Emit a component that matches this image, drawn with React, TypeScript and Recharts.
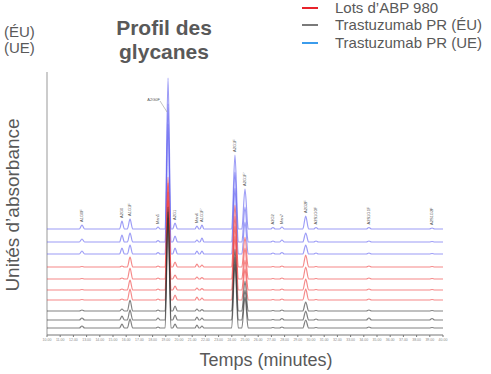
import { ComposedChart, Line, Scatter, XAxis, YAxis, ReferenceLine } from 'recharts';

// retention times (minutes) of the glycan peaks
const peakTimes = [12.65, 15.68, 16.29, 18.41, 19.17, 19.7, 21.36, 21.74, 24.24, 25.0, 27.12, 27.8, 29.6, 30.38, 34.39, 39.17];
const peakNames = ['A1G0F', 'A2G0', 'A1G1F', 'Man5', 'A2G0F', 'A2G1', 'Man6', "A1G1F'", 'A2G1F', "A2G1F'", 'A2G2', 'Man7', 'A2G2F', 'A2S1G0F', 'A2S1G1F', 'A2S1G2F'];
const peakWidths = [0.2, 0.18, 0.2, 0.16, 0.22, 0.18, 0.15, 0.15, 0.25, 0.24, 0.18, 0.18, 0.22, 0.18, 0.2, 0.2];

// peak heights per chromatogram
const ueLot1 = [4, 8, 10, 2, 151, 6, 3, 4, 74, 40, 1.5, 2, 13, 1.5, 1.5, 1];
const ueLot2 = [3, 7, 9, 1.5, 138, 6, 2, 4, 70, 35, 1, 2, 9, 1, 1, 0.5];
const ueLot3 = [3, 6, 9, 1.5, 130, 6, 3, 3, 66, 32, 1, 1.5, 9, 1, 1, 0.5];
const abpLot1 = [0.5, 1, 10, 1, 90, 5, 3, 2, 62, 30, 0.5, 1, 12, 0.5, 1, 0.5];
const abpLot2 = [0.5, 1, 11, 1, 96, 4, 2, 1.5, 63, 31, 0.5, 1, 12, 0.5, 1, 0.5];
const abpLot3 = [0.5, 1, 10, 1, 98, 4, 2, 1.5, 64, 30, 0.5, 1, 11, 0.5, 1, 0.5];
const abpLot4 = [0.5, 1, 11, 1, 100, 5, 3, 2, 64, 31, 0.5, 1, 11, 0.5, 1, 0.5];
const euLot1 = [1, 2, 11, 1, 104, 5, 2, 1.5, 62, 30, 0.5, 1, 9, 0.5, 1, 0.5];
const euLot2 = [2, 4, 10, 2, 108, 5, 3, 2, 63, 30, 0.5, 1.5, 9, 1, 2, 1.5];
const euLot3 = [2, 4, 9, 1, 110, 4, 3, 2, 64, 31, 0.5, 1, 8, 0.5, 1, 0.5];

// vertical offset of each stacked trace
const traceOffsets = [106, 93, 81, 68, 56, 45, 35, 24, 15, 7];
const traceHeights = [ueLot1, ueLot2, ueLot3, abpLot1, abpLot2, abpLot3, abpLot4, euLot1, euLot2, euLot3];
const traceColors = ['#5c5cf0', '#5c5cf0', '#5c5cf0', '#ee3b3b', '#ee3b3b', '#ee3b3b', '#ee3b3b', '#2e2e2e', '#2e2e2e', '#2e2e2e'];

const timeTicks = [10, 11, 12, 13, 14, 15, 16, 17, 18, 19, 20, 21, 22, 23, 24, 25, 26, 27, 28, 29, 30, 31, 32, 33, 34, 35, 36, 37, 38, 39, 40];

const T_MIN = 10;
const T_MAX = 40;

function buildTrace(offset: number, heights: number[]) {
  const pts = [{ t: T_MIN, v: offset }];
  peakTimes.forEach((t, i) => {
    const w = peakWidths[i];
    pts.push({ t: t - w, v: offset }, { t, v: offset + heights[i] }, { t: t + w, v: offset });
  });
  pts.push({ t: T_MAX, v: offset });
  return pts;
}

const traces = traceHeights.map((h, i) => ({
  id: `trace${i}`,
  color: traceColors[i],
  data: buildTrace(traceOffsets[i], h),
}));

const peakLabels = peakTimes.map((t, i) => ({
  t,
  v: traceOffsets[0] + ueLot1[i] + 3,
  name: peakNames[i],
  main: i === 4,
}));

const PeakLabel = (props: any) => {
  const { cx, cy, payload } = props;
  if (payload.main) {
    return (
      <g>
        <text x={cx - 8} y={cy + 26} fontSize={4} fill="#555" textAnchor="end">{payload.name}</text>
        <line x1={cx - 8} y1={cy + 26} x2={cx - 1} y2={cy + 37} stroke="#999" strokeWidth={0.6} />
      </g>
    );
  }
  return (
    <text x={cx} y={cy + 1.4} fontSize={4} fill="#555" transform={`rotate(-90 ${cx} ${cy})`}>
      {payload.name}
    </text>
  );
};

const font = '"Liberation Sans", Arial, sans-serif';
const grey = '#595959';

const legendItems = [
  { label: 'Lots d\u2019ABP 980', color: '#e8232b', top: 0 },
  { label: 'Trastuzumab PR (ÉU)', color: '#7a7a7a', top: 17 },
  { label: 'Trastuzumab PR (UE)', color: '#3b9cec', top: 35 },
];

export default function App() {
  return (
    <div style={{ position: 'absolute', left: 0, top: 0, width: 491, height: 374, background: '#fff', overflow: 'hidden', fontFamily: font }}>
      <div style={{ position: 'absolute', left: 4, top: 24, fontSize: 15, lineHeight: '15px', color: grey }}>(ÉU)</div>
      <div style={{ position: 'absolute', left: 4, top: 40, fontSize: 15, lineHeight: '15px', color: grey }}>(UE)</div>

      <div style={{ position: 'absolute', left: 94, width: 140, top: 16, fontSize: 21, lineHeight: '24px', fontWeight: 'bold', color: grey, textAlign: 'center' }}>
        Profil des
        <br />
        glycanes
      </div>

      {legendItems.map((item) => (
        <div key={item.label}>
          <div style={{ position: 'absolute', left: 302, top: item.top + 7, width: 16, height: 2, background: item.color }} />
          <div style={{ position: 'absolute', left: 335, top: item.top, fontSize: 15, lineHeight: '15px', color: grey, whiteSpace: 'nowrap' }}>
            {item.label}
          </div>
        </div>
      ))}

      <div
        style={{
          position: 'absolute',
          left: 12,
          top: 205,
          transform: 'translate(-50%, -50%) rotate(-90deg)',
          fontSize: 19,
          lineHeight: '19px',
          color: grey,
          whiteSpace: 'nowrap',
        }}
      >
        Unités d’absorbance
      </div>

      <div style={{ position: 'absolute', left: 266, top: 351, transform: 'translateX(-50%)', fontSize: 18, lineHeight: '18px', color: grey, whiteSpace: 'nowrap' }}>
        Temps (minutes)
      </div>

      <div style={{ position: 'absolute', left: 0, top: 0 }}>
        <ComposedChart width={491} height={374} margin={{ top: 72, right: 48, left: 47, bottom: 31 }}>
          <XAxis
            dataKey="t"
            type="number"
            domain={[T_MIN, T_MAX]}
            ticks={timeTicks}
            allowDataOverflow
            height={8}
            tickSize={2}
            stroke="#777"
            tick={{ fontSize: 3.5, fill: '#888' }}
            tickFormatter={(v: number) => v.toFixed(2)}
            interval={0}
          />
          <YAxis hide type="number" domain={[0, 263]} allowDataOverflow />
          <ReferenceLine x={T_MIN} stroke="#999" strokeWidth={1} />
          {traces.map((tr) => (
            <Line
              key={tr.id}
              data={tr.data}
              dataKey="v"
              type="monotone"
              stroke={tr.color}
              strokeOpacity={0.6}
              strokeWidth={1.2}
              dot={false}
              isAnimationActive={false}
            />
          ))}
          <Scatter data={peakLabels} dataKey="v" shape={PeakLabel} isAnimationActive={false} />
        </ComposedChart>
      </div>
    </div>
  );
}
